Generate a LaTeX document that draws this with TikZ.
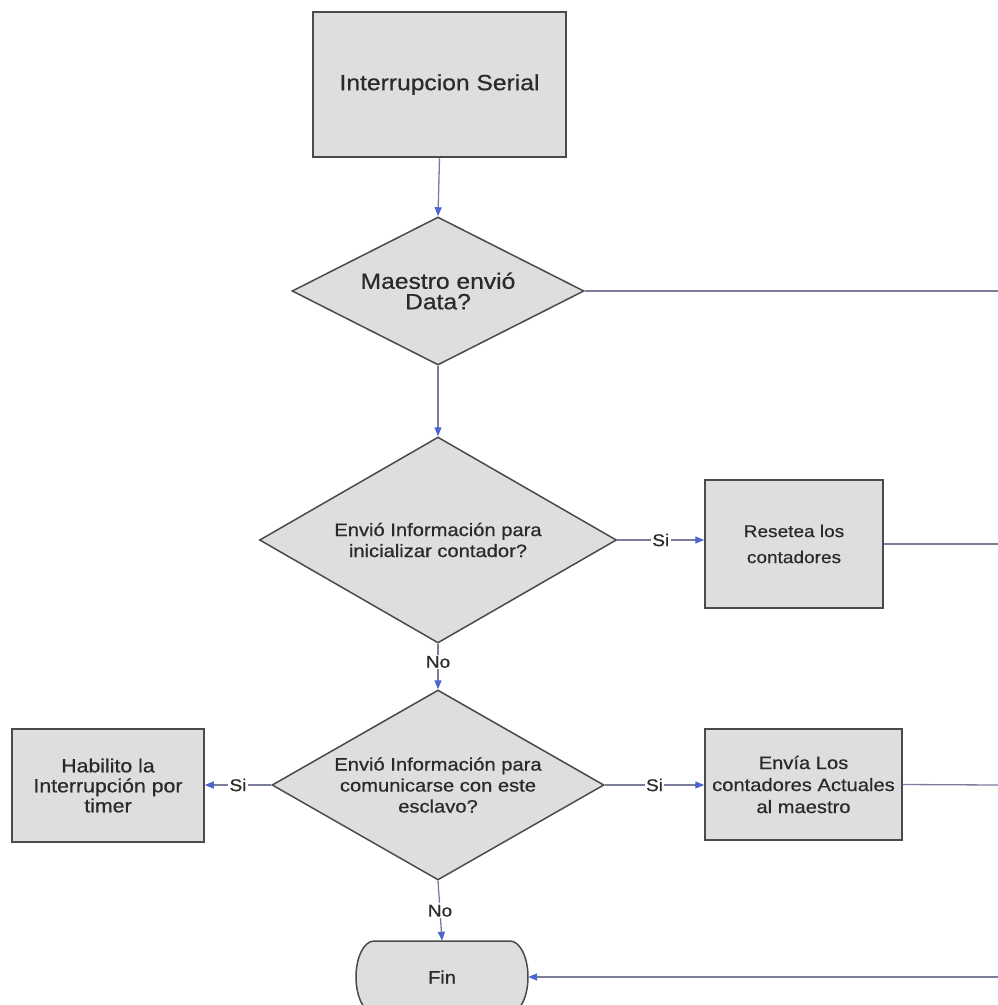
\documentclass[tikz,border=0pt]{standalone}
\usepackage{fontspec}
\setmainfont{Liberation Sans}[FakeStretch=1.12, FakeBold=0.6]
\usetikzlibrary{shapes.geometric,arrows.meta,calc}

\definecolor{boxfill}{HTML}{DEDEDE}
\definecolor{boxline}{HTML}{4A4A4A}
\definecolor{linkline}{HTML}{7B7D9C}
\definecolor{tipblue}{HTML}{4D66CC}
\definecolor{inkgray}{HTML}{2A2A2A}

\tikzset{
  procbox/.style={draw=boxline, fill=boxfill, line width=1.5pt, inner sep=0pt,
    align=center, text=inkgray},
  decision/.style={diamond, draw=boxline, fill=boxfill, line width=1.5pt,
    inner sep=0pt, align=center, text=inkgray},
  link/.style={draw=linkline, line width=1.3pt},
  flow/.style={link, -{Triangle[length=9pt,width=7pt,color=tipblue]}},
  tag/.style={fill=white, inner sep=1.5pt, text=inkgray,
    font=\fontsize{17}{17}\selectfont},
}

\begin{document}
\begin{tikzpicture}[x=1pt,y=-1pt]
  \useasboundingbox (0,0) rectangle (998,1005);

  % start block
  \node[procbox, minimum width=253pt, minimum height=145pt,
        font=\fontsize{22}{24}\selectfont] (start) at (439.5,84.5) {Interrupcion Serial};

  % decisions
  \node[decision, aspect=2, minimum width=292pt, minimum height=148pt,
        font=\fontsize{22}{20.5}\selectfont] (d1) at (438,291) {Maestro envió\\Data?};
  \node[decision, aspect=1.73, minimum width=357pt, minimum height=206pt,
        font=\fontsize{18}{21}\selectfont] (d2) at (438,540)
        {Envió Información para\\inicializar contador?};
  \node[decision, aspect=1.75, minimum width=332pt, minimum height=190pt,
        font=\fontsize{18}{21}\selectfont] (d3) at (438,785)
        {Envió Información para\\comunicarse con este\\esclavo?};

  % process blocks
  \node[procbox, minimum width=178pt, minimum height=128pt,
        font=\fontsize{17}{26}\selectfont] (reset) at (794,544) {Resetea los\\contadores};
  \node[procbox, minimum width=192pt, minimum height=113pt,
        font=\fontsize{19}{20}\selectfont] (timer) at (108,785.5)
        {Habilito la\\Interrupción por\\timer};
  \node[procbox, minimum width=197pt, minimum height=111pt,
        font=\fontsize{18}{22}\selectfont] (send) at (803.5,784.5)
        {Envía Los\\contadores Actuales\\al maestro};

  % terminator
  \coordinate (finc) at (442,977);
  \filldraw[draw=boxline, fill=boxfill, line width=1.5pt]
    ($(finc)+(-68,-36)$) -- ($(finc)+(68,-36)$)
    arc[start angle=90, end angle=-90, x radius=18pt, y radius=36pt]
    -- ($(finc)+(-68,36)$)
    arc[start angle=270, end angle=90, x radius=18pt, y radius=36pt] -- cycle;
  \node[minimum width=172pt, minimum height=72pt, inner sep=0pt, text=inkgray,
        font=\fontsize{18}{18}\selectfont] (fin) at (finc) {Fin};

  % free ends at the right border
  \coordinate (r1) at (998,291);
  \coordinate (r2) at (998,544);
  \coordinate (r3) at (998,785);
  \coordinate (r4) at (998,977);

  % connectors
  \draw[flow] (start.south) -- (d1.north);
  \draw[link] (d1.east) -- (r1);
  \draw[flow] (d1.south) -- (d2.north);
  \draw[flow] (d2.east) -- node[tag] {Si} (reset.west |- d2.east);
  \draw[link] (reset.east) -- (r2);
  \draw[flow] (d2.south) -- node[tag, pos=0.4] {No} (d3.north);
  \draw[flow] (d3.west) -- node[tag] {Si} (timer.east |- d3.west);
  \draw[flow] (d3.east) -- node[tag] {Si} (send.west |- d3.east);
  \draw[link] (send.east) -- (r3);
  \draw[flow] (d3.south) -- node[tag] {No} (fin.north);
  \draw[flow] (r4) -- (fin.east);
\end{tikzpicture}
\end{document}
